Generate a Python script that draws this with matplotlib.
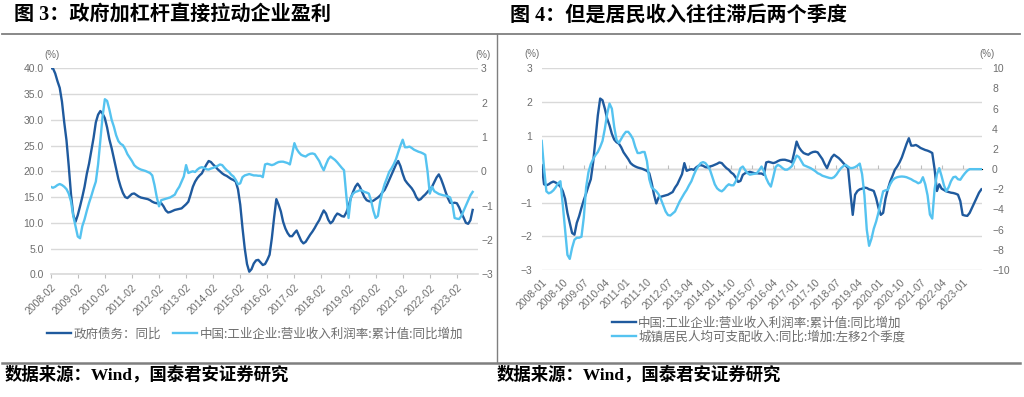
import matplotlib
matplotlib.use('Agg')
import matplotlib.pyplot as plt
import numpy as np
from matplotlib.lines import Line2D

plt.rcParams['font.family'] = ['Liberation Sans', 'Noto Sans CJK SC', 'DejaVu Sans']
plt.rcParams['axes.unicode_minus'] = True

# ---------------- data ----------------
# 政府债务：同比 (%), monthly 2008-02 .. 2023-09
gov_debt_yoy = [
    40.0, 40.0, 39.0, 37.5, 36.2, 33.5, 29.5, 26.0, 21.0, 15.5, 11.5, 10.2,
    11.5, 13.2, 15.0, 17.0, 19.5, 21.5, 24.0, 26.5, 29.5, 31.0, 31.7, 31.2,
    30.3, 28.5, 26.2, 24.5, 22.5, 20.5, 18.5, 17.0, 15.8, 15.0, 14.8, 15.2,
    15.6, 15.7, 15.4, 15.1, 14.9, 14.8, 14.7, 14.6, 14.4, 14.1, 13.9, 13.8,
    13.8, 13.8, 13.2, 12.4, 12.0, 12.1, 12.3, 12.5, 12.6, 12.7, 12.8, 13.2,
    13.6, 14.1, 15.5, 17.0, 18.0, 18.7, 19.2, 19.6, 20.5, 21.3, 22.0, 21.8,
    21.3, 20.9, 20.4, 20.0, 19.6, 19.3, 19.1, 18.8, 18.5, 18.3, 18.0, 16.5,
    13.5, 9.0, 5.0, 2.0, 0.5, 1.0, 2.1, 2.7, 2.8, 2.3, 1.8, 2.0,
    2.8, 3.8, 7.0, 11.0, 14.6, 13.5, 12.2, 10.2, 8.9, 8.0, 7.4, 7.4,
    8.0, 8.5, 7.5, 6.5, 6.0, 6.3, 7.0, 7.7, 8.3, 9.0, 9.8, 10.5,
    11.5, 12.4, 11.8, 10.6, 9.9, 10.3, 11.2, 11.8, 11.6, 11.3, 11.2, 12.0,
    13.2, 14.8, 16.0, 17.0, 17.6, 17.0, 16.0, 15.0, 14.4, 14.2, 14.1, 14.3,
    14.6, 14.9, 15.3, 15.9, 16.4, 17.3, 18.3, 19.3, 20.3, 21.3, 22.0, 21.0,
    19.5, 18.3, 17.7, 17.2, 16.7, 16.0, 15.0, 14.4, 14.6, 15.1, 15.5, 16.0,
    16.5, 17.0, 17.9, 18.8, 19.4, 18.5, 17.3, 16.0, 14.8, 13.9, 13.8, 13.9,
    13.8, 13.0, 11.9, 11.0, 10.0, 9.8, 10.5, 12.5,
]

# 中国:工业企业:营业收入利润率:累计值:同比增加 (%), monthly 2008-01 .. 2023-09
margin_chg = [
    0.12, -0.45, -0.48, -0.45, -0.40, -0.37, -0.40, -0.45, -0.52, -0.65, -0.88, -1.30,
    -1.60, -1.90, -1.95, -1.60, -1.40, -1.15, -0.92, -0.72, -0.50, -0.30, 0.20, 0.90,
    1.60, 2.10, 2.05, 1.80, 1.50, 1.30, 1.05, 0.88, 0.80, 0.76, 0.65, 0.50,
    0.40, 0.30, 0.18, 0.12, 0.08, 0.05, 0.03, 0.01, -0.02, -0.05, -0.12, -0.40,
    -0.75, -1.02, -0.84, -0.82, -0.80, -0.78, -0.76, -0.72, -0.68, -0.55, -0.45, -0.30,
    -0.15, 0.18, -0.05, -0.02, 0.00, -0.02, 0.05, 0.10, 0.12, 0.10, 0.06, 0.05,
    0.08, 0.10, 0.13, 0.16, 0.20, 0.18, 0.10, 0.03, -0.02, -0.10, -0.15, -0.25,
    -0.38, -0.35, -0.17, -0.12, -0.10, -0.08, -0.10, -0.12, -0.12, -0.13, -0.13, -0.17,
    0.20, 0.22, 0.20, 0.18, 0.20, 0.24, 0.27, 0.28, 0.28, 0.26, 0.24, 0.20,
    0.50, 0.82, 0.65, 0.55, 0.48, 0.45, 0.43, 0.48, 0.51, 0.52, 0.50, 0.40,
    0.30, 0.15, 0.03, 0.20, 0.35, 0.43, 0.38, 0.33, 0.26, 0.18, 0.10, 0.03,
    -0.70, -1.36, -0.76, -0.65, -0.60, -0.58, -0.55, -0.56, -0.60, -0.62, -0.65, -0.86,
    -1.15, -1.36, -1.30, -0.88, -0.60, -0.37, -0.20, -0.02, 0.08, 0.20, 0.35, 0.55,
    0.75, 0.92, 0.70, 0.70, 0.72, 0.68, 0.63, 0.60, 0.57, 0.55, 0.52, 0.48,
    0.00, -0.65, -0.45, -0.58, -0.62, -0.66, -0.68, -0.70, -0.71, -0.73, -0.76, -0.95,
    -1.36, -1.38, -1.39, -1.30, -1.15, -1.00, -0.85, -0.70, -0.60,
]

# 城镇居民人均可支配收入:同比:增加:左移2个季度 (%), monthly 2008-01 .. 2023-09
income_chg = [
    2.8, 0.1, -2.2, -2.4, -2.3, -2.1, -1.8, -1.4, -1.2, -3.5, -6.0, -8.5,
    -8.9, -7.8, -7.0, -6.8, -6.8, -6.7, -4.8, -1.8, -0.3, 0.5, 1.0, 1.4,
    1.7, 2.2, 2.8, 4.0, 5.5, 6.5, 6.0, 4.2, 2.9, 2.6, 3.0, 3.4,
    3.7, 3.7, 3.4, 3.0, 2.2, 1.6, 1.6, 1.7, 1.7, 0.8, -1.0, -1.8,
    -2.0, -2.2, -2.5, -3.0, -3.6, -4.2, -4.55, -4.6, -4.4, -4.2, -3.7, -3.2,
    -2.8, -2.4, -2.05, -1.6, -1.2, -0.6, -0.07, 0.3, 0.6, 0.7, 0.6, 0.3,
    -0.1, -0.8, -1.5, -1.9, -2.1, -2.2, -2.0, -1.7, -1.5, -1.6, -1.6, -1.2,
    -0.6, 0.1, 0.26, -0.1, -0.4, -0.55, -0.5, -0.45, -0.4, -0.1, 0.26, -0.2,
    -0.9, -1.4, -1.73, -0.8, 0.2, 0.43, 0.3, 0.1, -0.05, -0.05, 0.1, 0.3,
    0.82, 1.35, 1.2, 0.8, 0.4, 0.3, 0.2, 0.1, -0.05, -0.2, -0.4, -0.5,
    -0.65, -0.73, -0.8, -0.87, -0.9, -0.8, -0.55, -0.2, 0.1, 0.3, 0.43, 0.25,
    0.1, 0.12, 0.2, 0.35, 0.55, -0.5, -2.6, -6.0, -7.6, -6.9, -5.9, -5.2,
    -4.3, -3.2, -2.2, -2.1, -2.05, -1.5, -1.1, -0.9, -0.8, -0.75, -0.73, -0.75,
    -0.8, -0.9, -1.0, -1.15, -1.25, -1.4, -1.3, -0.8, -1.5, -2.6, -4.5, -4.9,
    -2.0, -0.5, 0.1, -0.7, -1.6, -2.2, -1.8, -1.2, -0.8, -0.75, -1.0, -1.05,
    -0.7, -0.4, -0.15, 0.0, 0.0, 0.0, 0.0, 0.0, 0.0,
]

left_xlabels = ['2008-02', '2009-02', '2010-02', '2011-02', '2012-02', '2013-02',
                '2014-02', '2015-02', '2016-02', '2017-02', '2018-02', '2019-02',
                '2020-02', '2021-02', '2022-02', '2023-02']
right_xlabels = ['2008-01', '2008-10', '2009-07', '2010-04', '2011-01', '2011-10',
                 '2012-07', '2013-04', '2014-01', '2014-10', '2015-07', '2016-04',
                 '2017-01', '2017-10', '2018-07', '2019-04', '2020-01', '2020-10',
                 '2021-07', '2022-04', '2023-01']

title_left = '图 3：政府加杠杆直接拉动企业盈利'
title_right = '图 4：但是居民收入往往滞后两个季度'
source_text = '数据来源：Wind，国泰君安证券研究'
lab_debt = '政府债务：同比'
lab_margin = '中国:工业企业:营业收入利润率:累计值:同比增加'
lab_income = '城镇居民人均可支配收入:同比:增加:左移2个季度'

# ---------------- style ----------------
DARK = '#1F5A9E'
LIGHT = '#55C3F0'
GRID = '#D9D9D9'
TXT = '#6E6E6E'
FRAME = '#7F7F7F'
CJK_SERIF = ['Liberation Serif', 'Noto Sans CJK SC']
LEG_FONT = ['Noto Sans CJK SC', 'DejaVu Sans']
LEG_SIZE = 9.0

W, H = 1024, 397
fig = plt.figure(figsize=(W / 100, H / 100), dpi=100)


def rect(x0, y0, x1, y1):
    return [x0 / W, 1 - y1 / H, (x1 - x0) / W, (y1 - y0) / H]


def hline(x0, x1, y, **kw):
    fig.add_artist(Line2D([x0 / W, x1 / W], [1 - y / H, 1 - y / H], **kw))


def vline(x, y0, y1, **kw):
    fig.add_artist(Line2D([x / W, x / W], [1 - y0 / H, 1 - y1 / H], **kw))


# frame lines
hline(2, 1020, 34.3, color=FRAME, lw=1.3)
hline(2, 1020, 363.3, color=FRAME, lw=1.8)
vline(496.8, 34.3, 363.3, color=FRAME, lw=1.0)

fig.text(14 / W, 1 - 16 / H, title_left, fontsize=14.5, fontweight='bold',
         family=CJK_SERIF, va='center', ha='left', color='black')
fig.text(510 / W, 1 - 16 / H, title_right, fontsize=14.5, fontweight='bold',
         family=CJK_SERIF, va='center', ha='left', color='black')
fig.text(5 / W, 1 - 375 / H, source_text, fontsize=12.5, fontweight='bold',
         family=CJK_SERIF, va='center', ha='left', color='black')
fig.text(497 / W, 1 - 375 / H, source_text, fontsize=12.5, fontweight='bold',
         family=CJK_SERIF, va='center', ha='left', color='black')


def style_axis(ax):
    for s in ax.spines.values():
        s.set_visible(False)
    ax.tick_params(axis='y', length=0, labelsize=7.5, labelcolor=TXT)


# ---------------- left chart ----------------
ax1 = fig.add_axes(rect(50.7, 68.3, 478.3, 274.3))
x_left = np.arange(len(gov_debt_yoy))
style_axis(ax1)
ax1.set_ylim(0, 40)
ax1.set_yticks(np.arange(0, 41, 5))
ax1.yaxis.set_major_formatter(matplotlib.ticker.FormatStrFormatter('%.1f'))
ax1.tick_params(axis='y', pad=5)
ax1.grid(axis='y', color=GRID, lw=1.0)
ax1.set_axisbelow(True)
ax1.set_xlim(0, 189.5)
ax1.set_xticks(np.arange(0, len(left_xlabels) * 12, 12))
ax1.set_xticklabels(left_xlabels, rotation=45, ha='right', rotation_mode='anchor',
                    fontsize=7.5, color=TXT)
ax1.spines['bottom'].set_visible(True)
ax1.spines['bottom'].set_color(GRID)
ax1.spines['bottom'].set_linewidth(1.2)
ax1.tick_params(axis='x', length=3, color='#BFBFBF', pad=3)
l1, = ax1.plot(x_left, gov_debt_yoy, color=DARK, lw=1.7, label=lab_debt)

ax1r = ax1.twinx()
style_axis(ax1r)
ax1r.set_ylim(-3, 3)
ax1r.set_yticks(np.arange(-3, 4, 1))
ax1r.tick_params(axis='y', pad=2)
l2, = ax1r.plot(x_left, margin_chg[1:], color=LIGHT, lw=1.7, label=lab_margin)

fig.text(52 / W, 1 - 55 / H, '(%)', fontsize=7, color=TXT, ha='center', va='center')
fig.text(483 / W, 1 - 55 / H, '(%)', fontsize=7, color=TXT, ha='center', va='center')

fig.legend(handles=[l1, l2], loc='center left', bbox_to_anchor=(47 / W, 1 - 334 / H),
           ncol=2, frameon=False, handlelength=1.9, handletextpad=0.2,
           columnspacing=1.0, borderpad=0, borderaxespad=0, labelcolor=TXT,
           prop={'family': LEG_FONT, 'size': LEG_SIZE})

# ---------------- right chart ----------------
ax2 = fig.add_axes(rect(541.7, 68.3, 982.3, 270.0))
x_right = np.arange(len(margin_chg))
style_axis(ax2)
ax2.set_ylim(-3, 3)
ax2.set_yticks(np.arange(-3, 4, 1))
ax2.tick_params(axis='y', pad=7)
ax2.grid(axis='y', color=GRID, lw=1.0)
ax2.set_axisbelow(True)
ax2.set_xlim(0, 188.4)
ax2.set_xticks(np.arange(0, len(right_xlabels) * 9, 9))
ax2.set_xticklabels(right_xlabels, rotation=45, ha='right', rotation_mode='anchor',
                    fontsize=7.5, color=TXT)
ax2.tick_params(axis='x', length=0, pad=5)
sec = ax2.secondary_xaxis(0.5)
sec.set_xticks(np.arange(0, len(right_xlabels) * 9, 9))
sec.set_xticklabels([])
sec.tick_params(axis='x', length=3, color='#BFBFBF', direction='out')
sec.spines['bottom'].set_color(GRID)
sec.spines['bottom'].set_linewidth(1.2)
l3, = ax2.plot(x_right, margin_chg, color=DARK, lw=1.7, label=lab_margin)

ax2r = ax2.twinx()
style_axis(ax2r)
ax2r.set_ylim(-10, 10)
ax2r.set_yticks(np.arange(-10, 11, 2))
ax2r.tick_params(axis='y', pad=7)
l4, = ax2r.plot(x_right, income_chg, color=LIGHT, lw=1.7, label=lab_income)

fig.text(532 / W, 1 - 54 / H, '(%)', fontsize=7, color=TXT, ha='center', va='center')
fig.text(987 / W, 1 - 54 / H, '(%)', fontsize=7, color=TXT, ha='center', va='center')

fig.legend(handles=[l3, l4], loc='center left', bbox_to_anchor=(612 / W, 1 - 330 / H),
           ncol=1, frameon=False, handlelength=1.9, handletextpad=0.2,
           labelspacing=0.1, borderpad=0, borderaxespad=0, labelcolor=TXT,
           prop={'family': LEG_FONT, 'size': LEG_SIZE})

fig.savefig('out.png', dpi=100)
